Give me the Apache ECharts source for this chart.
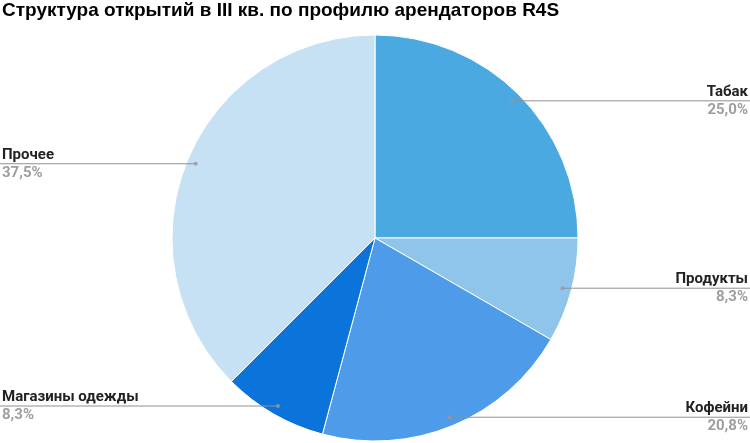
<!DOCTYPE html>
<html>
<head>
<meta charset="utf-8">
<script src="https://cdn.jsdelivr.net/npm/echarts@6/dist/echarts.min.js"></script>
<style>html,body{margin:0;padding:0;background:#fff}#c{width:750px;height:443px}</style>
</head>
<body>
<div id="c"></div>
<script>
const titleText = 'Структура открытий в III кв. по профилю арендаторов R4S';
const categories = ['Табак', 'Продукты', 'Кофейни', 'Магазины одежды', 'Прочее'];
const values = [6, 2, 5, 2, 9];
const colors = ['#4aa9e0', '#8fc5ea', '#4e9ce9', '#0a74da', '#c6e1f4'];

const total = values.reduce((a, b) => a + b, 0);
const pieData = categories.map((n, i) => ({ name: n, value: values[i], itemStyle: { color: colors[i] } }));
let cum = 0;
const mids = values.map(v => { const m = cum + v / 2; cum += v; return [1, m]; });
const pct = v => (v / total * 100).toFixed(1).replace('.', ',') + '%';

const W = 750;
const center = [375, 238];
const chart = echarts.init(document.getElementById('c'), null, { renderer: 'canvas' });
chart.setOption({
  animation: false,
  title: {
    text: titleText, left: 2, top: 1, padding: 0,
    textStyle: { fontFamily: 'Liberation Sans, Arial, sans-serif', fontSize: 19, fontWeight: 'bold', color: '#000' }
  },
  polar: { center: center, radius: 194 },
  angleAxis: { type: 'value', min: 0, max: total, startAngle: 90, clockwise: true, show: false },
  radiusAxis: { type: 'value', min: 0, max: 1, show: false },
  series: [
    {
      type: 'pie', center: center, radius: [0, 203], startAngle: 90, clockwise: true,
      data: pieData, silent: true, z: 1,
      itemStyle: { borderColor: '#fff', borderWidth: 1 },
      label: { show: false }, labelLine: { show: false }
    },
    {
      type: 'pie', center: center, radius: [0, 194], startAngle: 90, clockwise: true,
      data: categories.map((n, i) => ({ name: n, value: values[i], itemStyle: { color: 'rgba(0,0,0,0)' } })),
      silent: true, z: 3,
      label: {
        show: true, position: 'outside', alignTo: 'edge', edgeDistance: 2,
        formatter: p => '{n|' + p.name + '}\n{p|' + pct(p.value) + '}',
        rich: {
          n: { fontFamily: 'Roboto, Arial, sans-serif', fontSize: 15, fontWeight: 'bold', color: '#222', lineHeight: 18 },
          p: { fontFamily: 'Roboto, Arial, sans-serif', fontSize: 15, fontWeight: 'bold', color: '#9e9e9e', lineHeight: 18 }
        }
      },
      labelLine: { show: true, length: 0, length2: 10, lineStyle: { color: '#909090', width: 1 } },
      labelLayout: function (params) {
        const pts = params.labelLinePoints;
        if (!pts) return {};
        const np = pts.map(p => p.slice());
        const right = np[np.length - 1][0] >= np[0][0];
        np[np.length - 1][0] = right ? W : 0;
        return { labelLinePoints: np };
      }
    },
    {
      type: 'scatter', coordinateSystem: 'polar', data: mids, symbol: 'circle', symbolSize: 4,
      itemStyle: { color: '#999' }, silent: true, z: 5
    }
  ]
});
</script>
</body>
</html>
